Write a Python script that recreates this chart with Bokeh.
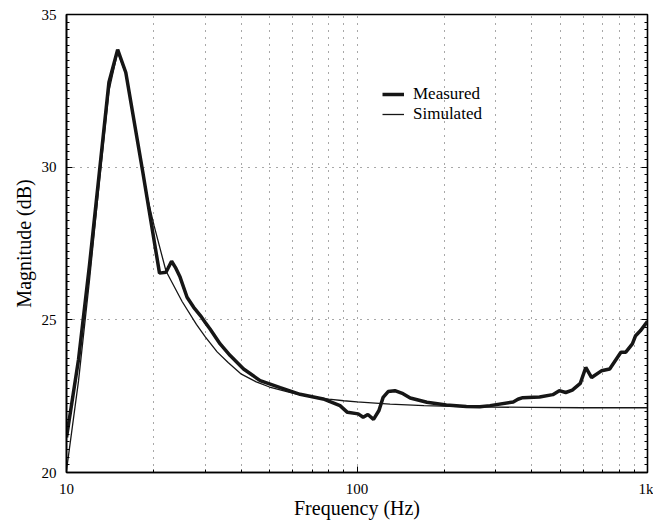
from bokeh.plotting import figure
from bokeh.models import (FixedTicker, LinearAxis, Legend, LegendItem, Range1d,
                          CustomLabelingPolicy)
from bokeh.embed import file_html
from bokeh.resources import INLINE

# Measured response (Hz, dB)
meas_f = [10, 11, 12, 13, 14, 15, 16, 18.3, 20.9, 22.0, 23.0, 23.7, 24.6, 26.0,
          27.4, 28.9, 30.0, 31.2, 33.8, 36.6, 40.7, 46.4, 54.4, 63.7, 76.5, 87.4,
          92.7, 101, 105, 109, 114, 119, 123, 128, 135, 144, 152.5, 174, 203, 238,
          265, 287, 345, 358, 372, 425, 472, 497, 523, 551, 587, 613, 642, 694,
          741, 810, 842, 887, 910, 945, 1000]
meas_db = [21.15, 23.7, 26.8, 29.9, 32.78, 33.85, 33.1, 29.85, 26.53, 26.56, 26.92,
           26.72, 26.4, 25.74, 25.41, 25.14, 24.92, 24.7, 24.21, 23.83, 23.39, 23.01,
           22.78, 22.56, 22.41, 22.19, 21.97, 21.92, 21.81, 21.9, 21.74, 22.03, 22.46,
           22.65, 22.68, 22.58, 22.44, 22.3, 22.21, 22.16, 22.15, 22.19, 22.31, 22.4,
           22.45, 22.47, 22.55, 22.68, 22.62, 22.7, 22.92, 23.44, 23.11, 23.33, 23.39,
           23.94, 23.94, 24.21, 24.48, 24.64, 24.95]

# Simulated response (Hz, dB)
sim_f = [10, 11, 12, 13, 14, 15, 16, 17, 18, 19, 20, 22, 25, 28, 30, 33, 36, 40, 45,
         50, 60, 70, 80, 90, 100, 130, 170, 250, 400, 600, 1000]
sim_db = [20.07, 23.0, 26.3, 29.6, 32.5, 33.78, 33.05, 31.63, 30.25, 29.0, 28.1, 26.6,
          25.6, 24.85, 24.45, 23.95, 23.6, 23.22, 22.97, 22.8, 22.6, 22.47, 22.4, 22.35,
          22.31, 22.24, 22.19, 22.15, 22.13, 22.12, 22.12]

x_major = [10, 100, 1000]
x_labels = {10: "10", 100: "100", 1000: "1k"}
x_minor = [20, 30, 40, 50, 60, 70, 80, 90, 200, 300, 400, 500, 600, 700, 800, 900]
y_major = [20, 25, 30, 35]
y_minor = [20 + 0.25 * i for i in range(61)]

FONT = "Liberation Serif"
GRID = "#505050"

p = figure(width=653, height=522, x_axis_type="log",
           x_range=Range1d(10, 1000), y_range=Range1d(20, 35),
           output_backend="svg", toolbar_location=None,
           min_border_left=66, min_border_right=6, min_border_top=14,
           min_border_bottom=50)

p.background_fill_color = "white"
p.border_fill_color = "white"
p.outline_line_color = "black"
p.outline_line_width = 1.6

xt = FixedTicker(ticks=x_major, minor_ticks=x_minor)
yt = FixedTicker(ticks=y_major, minor_ticks=y_minor)
p.xaxis.ticker = xt
p.yaxis.ticker = yt
p.xaxis.major_label_overrides = x_labels

for ax in (p.xaxis[0], p.yaxis[0]):
    ax.axis_line_color = "black"
    ax.axis_line_width = 1.6
    ax.major_tick_in = 6
    ax.major_tick_out = 0
    ax.minor_tick_in = 3
    ax.minor_tick_out = 0
    ax.major_tick_line_color = "black"
    ax.minor_tick_line_color = "black"
    ax.major_label_text_font = FONT
    ax.major_label_text_font_size = "15px"
    ax.major_label_text_color = "black"
    ax.axis_label_text_font = FONT
    ax.axis_label_text_font_size = "20px"
    ax.axis_label_text_font_style = "normal"
    ax.axis_label_text_color = "black"

p.xaxis.axis_label = "Frequency (Hz)"
p.yaxis.axis_label = "Magnitude (dB)"
p.xaxis.major_label_standoff = 8
p.xaxis.axis_label_standoff = -3
p.yaxis.major_label_standoff = 10
p.yaxis.axis_label_standoff = 4

# right-hand ticks only (no labels)
ra = LinearAxis(ticker=yt, major_label_policy=CustomLabelingPolicy(code="return new Set()"),
                major_label_standoff=0, major_label_text_font_size="1px",
                major_tick_in=6, major_tick_out=0, minor_tick_in=3, minor_tick_out=0,
                axis_line_color=None)
p.add_layout(ra, "right")

p.xgrid.ticker = xt
p.ygrid.ticker = yt
p.xgrid.grid_line_color = GRID
p.xgrid.grid_line_dash = "1 6"
p.xgrid.minor_grid_line_color = GRID
p.xgrid.minor_grid_line_dash = "1 6"
p.ygrid.grid_line_color = GRID
p.ygrid.grid_line_dash = "1 6"

r_meas = p.line(meas_f, meas_db, line_width=3.5, line_color="#161616")
r_sim = p.line(sim_f, sim_db, line_width=1.3, line_color="#161616")

legend = Legend(items=[LegendItem(label="Measured", renderers=[r_meas]),
                       LegendItem(label="Simulated", renderers=[r_sim])],
                location=(316, 348), glyph_width=22, glyph_height=20,
                label_standoff=9, padding=0, margin=0, spacing=0,
                border_line_color=None, background_fill_alpha=0,
                label_text_font=FONT, label_text_font_size="17px",
                label_text_font_style="normal",
                label_text_color="black")
p.add_layout(legend)

open("out.html", "w").write(file_html(p, INLINE))
